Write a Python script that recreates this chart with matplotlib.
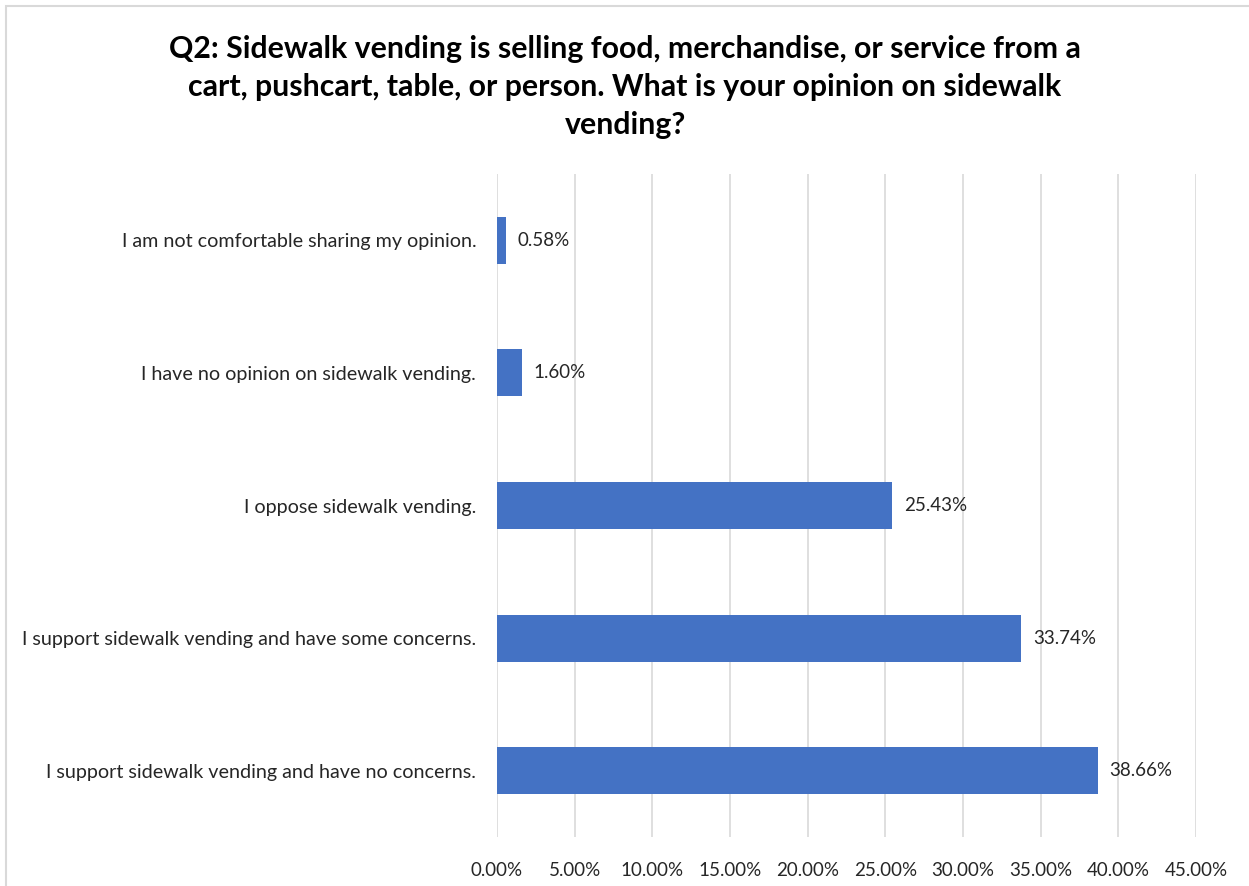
import matplotlib.pyplot as plt
from matplotlib.patches import Rectangle
from matplotlib.ticker import FuncFormatter

categorias = ['I support sidewalk vending and have no concerns.',
              'I support sidewalk vending and have some concerns.',
              'I oppose sidewalk vending.',
              'I have no opinion on sidewalk vending.',
              'I am not comfortable sharing my opinion.']
valores = [38.66, 33.74, 25.43, 1.60, 0.58]
ticks_x = [0, 5, 10, 15, 20, 25, 30, 35, 40, 45]

titulo = ('Q2: Sidewalk vending is selling food, merchandise, or service from a\n'
          'cart, pushcart, table, or person. What is your opinion on sidewalk\n'
          'vending?')

plt.rcParams['font.family'] = ['Lato', 'DejaVu Sans']

fig = plt.figure(figsize=(12.49, 8.86), dpi=100)
ax = fig.add_axes([497/1249, 1 - 837/886, 699/1249, (837 - 174)/886])

pos = range(len(categorias))
barras = ax.barh(pos, valores, height=0.355, color='#4472C4', zorder=3)

# rotulos dos valores
for p, v in zip(pos, valores):
    ax.text(v + 0.75, p, f'{v:.2f}%', va='center', ha='left', fontsize=13.5, color='#262626')

ax.set_xlim(0, 45)
ax.set_ylim(-0.5, len(categorias) - 0.5)
ax.set_xticks(ticks_x)
ax.xaxis.set_major_formatter(FuncFormatter(lambda x, _: f'{x:.2f}%'))
ax.set_yticks(list(pos))
ax.set_yticklabels(categorias)
ax.tick_params(axis='y', length=0, pad=15, labelsize=14.2, labelcolor='#262626')
ax.tick_params(axis='x', length=0, pad=18, labelsize=13.5, labelcolor='#262626')
ax.grid(axis='x', color='#d9d9d9', linewidth=1.2, zorder=0)
for s in ax.spines.values():
    s.set_visible(False)

fig.text(625/1249, 1 - 87/886, titulo, ha='center', va='center', fontsize=21.8,
         fontweight='bold', color='#000000', linespacing=1.44)

# borda do grafico
fig.patches.append(Rectangle((6/1249, -0.1), 1.2, 1 - 6/886 + 0.1, transform=fig.transFigure,
                             fill=False, edgecolor='#d9d9d9', linewidth=1.5))

fig.savefig('out.png', dpi=100)
